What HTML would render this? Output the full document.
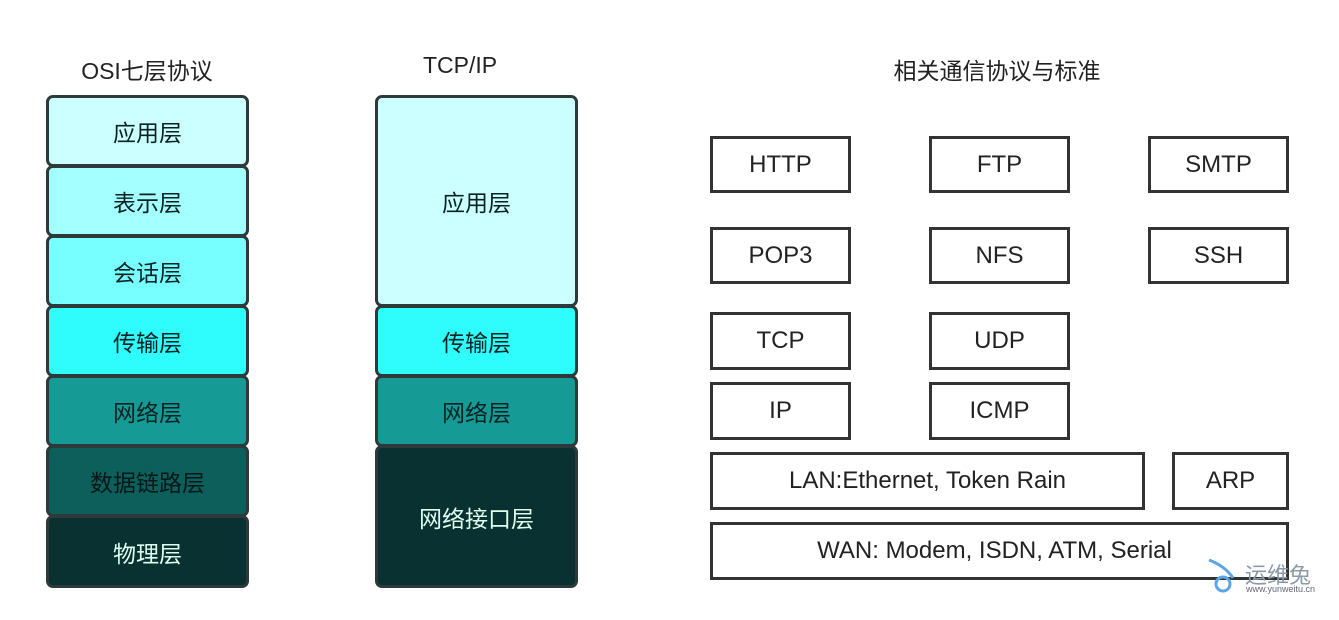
<!DOCTYPE html><html><head><meta charset="utf-8"><style>
body{margin:0;width:1339px;height:620px;background:#fff;position:relative;overflow:hidden;font-family:"Liberation Sans","Noto Sans CJK SC",sans-serif}
.t{position:absolute;font-size:23px;color:#222;text-align:center}
.l{position:absolute;box-sizing:border-box;border:3px solid #2e3a3a;border-radius:7px;display:flex;align-items:center;justify-content:center;font-size:23px;color:#0a2222}
.b{position:absolute;box-sizing:border-box;border:3px solid #333;display:flex;align-items:center;justify-content:center;font-size:24px;color:#222;background:#fff}
</style></head><body>
<div class="t" style="left:46px;width:202px;top:52px">OSI七层协议</div>
<div class="t" style="left:375px;width:170px;top:52px">TCP/IP</div>
<div class="t" style="left:797px;width:400px;top:52px">相关通信协议与标准</div>

<div class="l" style="left:46px;top:95px;width:203px;height:72px;background:#ccffff">应用层</div>
<div class="l" style="left:46px;top:165px;width:203px;height:72px;background:#a4ffff">表示层</div>
<div class="l" style="left:46px;top:235px;width:203px;height:72px;background:#77ffff">会话层</div>
<div class="l" style="left:46px;top:305px;width:203px;height:72px;background:#2ffcfc">传输层</div>
<div class="l" style="left:46px;top:375px;width:203px;height:72px;background:#169a96">网络层</div>
<div class="l" style="left:46px;top:445px;width:203px;height:72px;background:#0d5f5c;color:#061818">数据链路层</div>
<div class="l" style="left:46px;top:515px;width:203px;height:73px;background:#0a3131;color:#dfe">物理层</div>

<div class="l" style="left:375px;top:95px;width:203px;height:212px;background:#ccffff">应用层</div>
<div class="l" style="left:375px;top:305px;width:203px;height:72px;background:#2ffcfc">传输层</div>
<div class="l" style="left:375px;top:375px;width:203px;height:72px;background:#169a96">网络层</div>
<div class="l" style="left:375px;top:445px;width:203px;height:143px;background:#0a3131;color:#dfe">网络接口层</div>

<div class="b" style="left:710px;top:136px;width:141px;height:57px">HTTP</div>
<div class="b" style="left:929px;top:136px;width:141px;height:57px">FTP</div>
<div class="b" style="left:1148px;top:136px;width:141px;height:57px">SMTP</div>
<div class="b" style="left:710px;top:227px;width:141px;height:57px">POP3</div>
<div class="b" style="left:929px;top:227px;width:141px;height:57px">NFS</div>
<div class="b" style="left:1148px;top:227px;width:141px;height:57px">SSH</div>
<div class="b" style="left:710px;top:312px;width:141px;height:58px">TCP</div>
<div class="b" style="left:929px;top:312px;width:141px;height:58px">UDP</div>
<div class="b" style="left:710px;top:382px;width:141px;height:58px">IP</div>
<div class="b" style="left:929px;top:382px;width:141px;height:58px">ICMP</div>
<div class="b" style="left:710px;top:452px;width:435px;height:58px">LAN:Ethernet, Token Rain</div>
<div class="b" style="left:1172px;top:452px;width:117px;height:58px">ARP</div>
<div class="b" style="left:710px;top:522px;width:579px;height:58px;padding-right:10px">WAN: Modem, ISDN, ATM, Serial</div>

<div style="position:absolute;left:1245px;top:558px;font-size:22px;color:#8a9aa8">运维兔</div>
<div style="position:absolute;left:1246px;top:584px;font-size:9px;color:#667">www.yunweitu.cn</div>
<svg style="position:absolute;left:1205px;top:556px" width="40" height="40"><path d="M4 4 Q20 10 28 22" stroke="#5aa6e6" stroke-width="3" fill="none"/><circle cx="18" cy="28" r="7" stroke="#5aa6e6" stroke-width="3" fill="none"/></svg>
</body></html>
